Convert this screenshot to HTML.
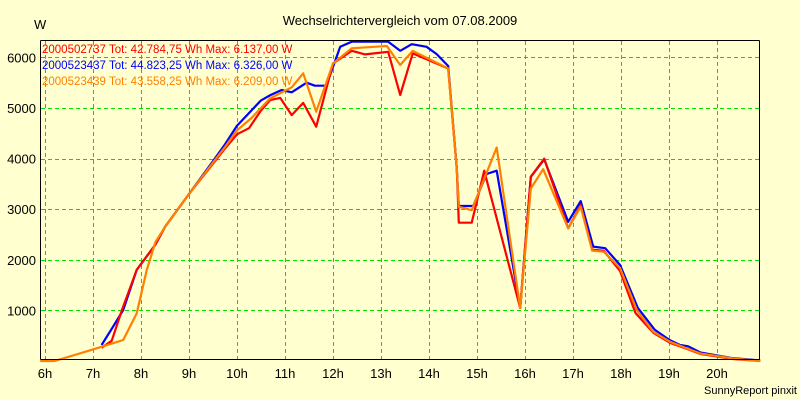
<!DOCTYPE html>
<html><head><meta charset="utf-8"><style>
html,body{margin:0;padding:0;background:#ffffd0;}
svg{display:block;font-family:"Liberation Sans",sans-serif;}
</style></head><body>
<svg id="chart" width="800" height="400" viewBox="0 0 800 400" xmlns="http://www.w3.org/2000/svg">
<rect x="0" y="0" width="800" height="400" fill="#ffffd0"/>
<text x="400" y="25" text-anchor="middle" font-size="13" fill="#000">Wechselrichtervergleich vom 07.08.2009</text>
<text x="34" y="29" font-size="13" fill="#000">W</text>
<g id="grid"></g>
<g id="series"></g>
<line x1="40.5" y1="40.5" x2="759.5" y2="40.5" stroke="#000"/>
<line x1="759.5" y1="40.5" x2="759.5" y2="359.5" stroke="#000"/>
<line x1="40.5" y1="40.5" x2="40.5" y2="359.5" stroke="#000"/>
<line x1="40.5" y1="359.5" x2="759.5" y2="359.5" stroke="#000"/>
<g id="ticks"></g>
<g font-size="11.5">
<text x="42" y="53" fill="#ff0000">2000502737 Tot: 42.784,75 Wh Max: 6.137,00 W</text>
<text x="42" y="69" fill="#0000ff">2000523437 Tot: 44.823,25 Wh Max: 6.326,00 W</text>
<text x="42" y="85" fill="#ff8000">2000523439 Tot: 43.558,25 Wh Max: 6.209,00 W</text>
</g>
<text x="797" y="394" text-anchor="end" font-size="11" fill="#000">SunnyReport pinxit</text>
</svg>
<script>
const xTickHours = [6,7,8,9,10,11,12,13,14,15,16,17,18,19,20];
const yTickValues = [1000,2000,3000,4000,5000,6000];

const blueTimes = [7.18,7.4,7.63,7.91,8.3,8.5,9.0,9.5,9.75,10.0,10.3,10.5,10.7,10.93,11.14,11.45,11.62,11.86,12.15,12.39,13.15,13.4,13.64,13.95,14.16,14.4,14.58,14.62,14.92,15.2,15.41,15.9,16.12,16.4,16.9,17.16,17.42,17.67,17.98,18.35,18.7,19.0,19.23,19.4,19.65,20.3,20.9];
const blueValues = [316,650,1008,1800,2300,2650,3300,3950,4280,4650,4950,5150,5256,5355,5310,5500,5440,5440,6210,6310,6310,6130,6260,6210,6066,5830,3800,3063,3063,3695,3760,1047,3640,3985,2750,3160,2260,2230,1900,1050,620,420,316,290,170,60,10];

const redTimes = [7.18,7.39,7.6,7.91,8.3,8.5,9.0,9.5,9.75,10.0,10.25,10.5,10.69,10.9,11.14,11.38,11.65,12.0,12.39,12.67,13.15,13.4,13.66,14.4,14.58,14.62,14.89,15.15,15.9,16.12,16.4,16.9,17.16,17.4,17.64,17.98,18.3,18.67,19.02,19.37,19.65,20.34,20.9];
const redValues = [260,400,1000,1800,2300,2650,3300,3900,4200,4480,4600,4950,5157,5200,4860,5100,4630,5880,6130,6060,6110,5256,6080,5780,3800,2733,2733,3760,1047,3640,4000,2620,3080,2200,2180,1780,950,560,360,240,140,40,0];

const orangeTimes = [5.9,6.2,7.0,7.63,7.91,8.12,8.3,8.5,9.0,9.5,9.75,10.0,10.3,10.5,10.69,11.14,11.38,11.65,12.0,12.39,13.12,13.4,13.66,14.4,14.58,14.62,14.89,15.41,15.9,16.12,16.38,16.9,17.16,17.4,17.64,17.98,18.33,18.67,19.02,19.37,19.65,20.34,20.9];
const orangeValues = [0,0,230,415,940,1800,2350,2650,3300,3920,4230,4560,4800,5000,5190,5410,5685,4926,5880,6180,6225,5850,6130,5780,3800,3050,2980,4220,1047,3410,3790,2620,3050,2180,2160,1840,1008,580,380,250,150,50,0];

function xScale(h){ return 45 + (h-6)*48; }
function yScale(w){ return 361 - w*0.0506; }

const NS = "http://www.w3.org/2000/svg";
const grid = document.getElementById('grid');
const ticks = document.getElementById('ticks');
xTickHours.forEach(h => {
  const x = Math.round(xScale(h))+0.5;
  const l = document.createElementNS(NS,'line');
  
  
  l.setAttribute('x1',x); l.setAttribute('x2',x); l.setAttribute('y1',41); l.setAttribute('y2',359);
  l.setAttribute('stroke','#00e000'); l.setAttribute('stroke-dasharray','4,3');
  grid.appendChild(l);
  const t = document.createElementNS(NS,'text');
  
  
  t.setAttribute('x',xScale(h)); t.setAttribute('y',378); t.setAttribute('text-anchor','middle');
  t.setAttribute('font-size','13');
  t.textContent = h + 'h';
  ticks.appendChild(t);
});
yTickValues.forEach(v => {
  const y = Math.round(yScale(v))+0.5;
  const l = document.createElementNS(NS,'line');
  
  
  l.setAttribute('x1',41); l.setAttribute('x2',759); l.setAttribute('y1',y); l.setAttribute('y2',y);
  l.setAttribute('stroke','#00e000'); l.setAttribute('stroke-dasharray','4,3');
  grid.appendChild(l);
  const t = document.createElementNS(NS,'text');
  
  
  t.setAttribute('x',36); t.setAttribute('y',yScale(v)+5); t.setAttribute('text-anchor','end');
  t.setAttribute('font-size','13');
  t.textContent = v;
  ticks.appendChild(t);
});
const seriesG = document.getElementById('series');
function drawSeries(times, values, color, name){
  const pts = times.map((t,i) => xScale(t).toFixed(1)+','+yScale(values[i]).toFixed(1)).join(' ');
  const p = document.createElementNS(NS,'polyline');
  
  
  p.setAttribute('points', pts);
  p.setAttribute('fill','none'); p.setAttribute('stroke',color); p.setAttribute('stroke-width','2.2');
  p.setAttribute('stroke-linejoin','round');
  seriesG.appendChild(p);
}
drawSeries(blueTimes, blueValues, '#0000ff', 'series-2000523437');
drawSeries(redTimes, redValues, '#ff0000', 'series-2000502737');
drawSeries(orangeTimes, orangeValues, '#ff8000', 'series-2000523439');
</script>
</body></html>
